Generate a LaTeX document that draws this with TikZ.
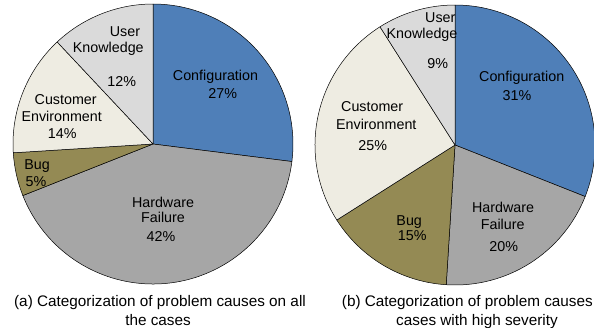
\documentclass[tikz,border=0pt]{standalone}
\usepackage{fontspec}
\setmainfont{Liberation Sans}

\definecolor{cfgblue}{HTML}{4F7FB8}
\definecolor{hwgray}{HTML}{A6A6A6}
\definecolor{bugolive}{HTML}{948A54}
\definecolor{custcream}{HTML}{EEECE2}
\definecolor{usergray}{HTML}{DADADA}

\begin{document}
\begin{tikzpicture}[
            x = 1pt, y = 1pt,
            slice/.style={draw=black, line width=.5pt, line join=round},
            lbl/.style={anchor=base, inner sep=0pt, font=\fontsize{14.3}{17}\selectfont},
            capt/.style={anchor=base, inner sep=0pt, font=\fontsize{15.3}{19}\selectfont},
            ]

        \useasboundingbox (0,0) rectangle (594,-327);
        \clip (0,0) rectangle (594,-327);

        % pie (a): all cases
        \coordinate (pa) at (153,-144);
        \filldraw[slice, fill=cfgblue] (pa) -- +(90:140) arc[start angle=90, end angle=-7.2, radius=140] -- cycle;
        \filldraw[slice, fill=hwgray] (pa) -- +(-7.2:140) arc[start angle=-7.2, end angle=-158.4, radius=140] -- cycle;
        \filldraw[slice, fill=bugolive] (pa) -- +(-158.4:140) arc[start angle=-158.4, end angle=-176.4, radius=140] -- cycle;
        \filldraw[slice, fill=custcream] (pa) -- +(-176.4:140) arc[start angle=-176.4, end angle=-226.8, radius=140] -- cycle;
        \filldraw[slice, fill=usergray] (pa) -- +(-226.8:140) arc[start angle=-226.8, end angle=-270, radius=140] -- cycle;

        \node[lbl] (cfgA) at (215.5,-80) {Configuration};
        \node[lbl] (cfgpA) at (222.7,-98) {27\%};
        \node[lbl] (hwA) at (163,-207.3) {Hardware};
        \node[lbl] (failA) at (163,-222) {Failure};
        \node[lbl] (hwpA) at (161,-241) {42\%};
        \node[lbl] (bugA) at (37,-169.3) {Bug};
        \node[lbl] (bugpA) at (36,-186) {5\%};
        \node[lbl] (custA) at (65.7,-104.3) {Customer};
        \node[lbl] (envA) at (61.7,-121) {Environment};
        \node[lbl] (custpA) at (62.2,-138.3) {14\%};
        \node[lbl] (userA) at (125,-36) {User};
        \node[lbl] (knowA) at (108.3,-52.7) {Knowledge};
        \node[lbl] (userpA) at (121.7,-86) {12\%};

        % pie (b): high severity cases
        \coordinate (pb) at (455,-145);
        \filldraw[slice, fill=cfgblue] (pb) -- +(90:140) arc[start angle=90, end angle=-21.6, radius=140] -- cycle;
        \filldraw[slice, fill=hwgray] (pb) -- +(-21.6:140) arc[start angle=-21.6, end angle=-93.6, radius=140] -- cycle;
        \filldraw[slice, fill=bugolive] (pb) -- +(-93.6:140) arc[start angle=-93.6, end angle=-147.6, radius=140] -- cycle;
        \filldraw[slice, fill=custcream] (pb) -- +(-147.6:140) arc[start angle=-147.6, end angle=-237.6, radius=140] -- cycle;
        \filldraw[slice, fill=usergray] (pb) -- +(-237.6:140) arc[start angle=-237.6, end angle=-270, radius=140] -- cycle;

        \node[lbl] (cfgB) at (521.7,-81.7) {Configuration};
        \node[lbl] (cfgpB) at (517,-100) {31\%};
        \node[lbl] (hwB) at (503,-212.3) {Hardware};
        \node[lbl] (failB) at (502.7,-229) {Failure};
        \node[lbl] (hwpB) at (503.7,-251.7) {20\%};
        \node[lbl] (bugB) at (409.2,-225) {Bug};
        \node[lbl] (bugpB) at (412.2,-240) {15\%};
        \node[lbl] (custB) at (372.2,-111.7) {Customer};
        \node[lbl] (envB) at (376.3,-129.3) {Environment};
        \node[lbl] (custpB) at (372.8,-150) {25\%};
        \node[lbl] (userB) at (440.3,-22) {User};
        \node[lbl] (knowB) at (422,-38) {Knowledge};
        \node[lbl] (userpB) at (437.7,-68.3) {9\%};

        % captions
        \node[capt] (capA1) at (160,-306) {(a) Categorization of problem causes on all};
        \node[capt] (capA2) at (158,-325) {the cases};
        \node[capt] (capB1) at (478,-306) {(b) Categorization of problem causes on};
        \node[capt] (capB2) at (477,-325) {cases with high severity};
    \end{tikzpicture}
\end{document}
